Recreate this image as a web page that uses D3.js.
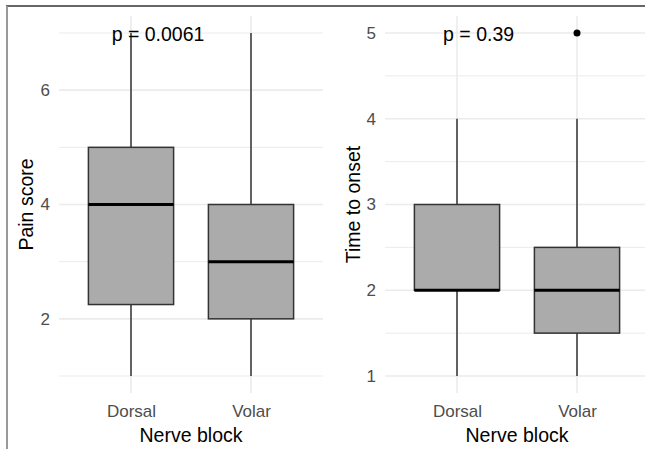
<!DOCTYPE html>
<html>
<head>
<meta charset="utf-8">
<script src="https://cdn.jsdelivr.net/npm/d3@7"></script>
<style>
  body { margin: 0; background: #fff; }
  text { font-family: "Liberation Sans", Arial, sans-serif; }
</style>
</head>
<body>
<script>
//////////////// Data ////////////////////
var groups = ["Dorsal", "Volar"];

// pain score: min, q1, median, q3, max
var painStats = [
  {group: "Dorsal", min: 1, q1: 2.25, med: 4, q3: 5, max: 7},
  {group: "Volar",  min: 1, q1: 2,    med: 3, q3: 4, max: 7}
];
var painMajor = [2, 4, 6];
var painMinor = [1, 3, 5, 7];
var painOutliers = [];

// time to onset
var onsetStats = [
  {group: "Dorsal", min: 1, q1: 2,   med: 2, q3: 3,   max: 4},
  {group: "Volar",  min: 1, q1: 1.5, med: 2, q3: 2.5, max: 4}
];
var onsetMajor = [1, 2, 3, 4, 5];
var onsetMinor = [1.5, 2.5, 3.5, 4.5];
var onsetOutliers = [{group: "Volar", value: 5}];

var pLabels = ["p = 0.0061", "p = 0.39"];
var yTitles = ["Pain score", "Time to onset"];
var xTitle = "Nerve block";

//////////////// SVG ////////////////////
var W = 645, H = 449;
var svg = d3.select("body").append("svg")
  .attr("width", W).attr("height", H);

// frame like the source image
svg.append("line").attr("x1", 6).attr("x2", W).attr("y1", 6).attr("y2", 6)
  .attr("stroke", "#333").attr("stroke-width", 1.5);
svg.append("line").attr("x1", 7).attr("x2", 7).attr("y1", 6).attr("y2", H)
  .attr("stroke", "#999").attr("stroke-width", 2);

var panelTop = 16, panelBottom = 393;

function drawPanel(cfg) {
  var g = svg.append("g");
  var x = d3.scalePoint().domain(groups).range([cfg.x0, cfg.x0 + 264]).padding(0.6);
  var y = d3.scaleLinear().domain(cfg.domain).range([376, 33]);
  var step = x.step();
  var bw = step * 0.71;

  // gridlines
  g.selectAll("line.minor").data(cfg.minor).enter().append("line")
    .attr("x1", cfg.x0).attr("x2", cfg.x0 + 264)
    .attr("y1", function(d){ return y(d); }).attr("y2", function(d){ return y(d); })
    .attr("stroke", "#ebebeb").attr("stroke-width", 1);
  g.selectAll("line.major").data(cfg.major).enter().append("line")
    .attr("x1", cfg.x0).attr("x2", cfg.x0 + 264)
    .attr("y1", function(d){ return y(d); }).attr("y2", function(d){ return y(d); })
    .attr("stroke", "#ebebeb").attr("stroke-width", 1.6);
  g.selectAll("line.vgrid").data(groups).enter().append("line")
    .attr("x1", function(d){ return x(d); }).attr("x2", function(d){ return x(d); })
    .attr("y1", panelTop).attr("y2", panelBottom)
    .attr("stroke", "#ebebeb").attr("stroke-width", 1.6);

  // axes (labels only)
  var ya = g.append("g").attr("transform", "translate(" + cfg.x0 + ",0)")
    .call(d3.axisLeft(y).tickValues(cfg.major).tickSize(0).tickPadding(9).tickFormat(d3.format("d")));
  ya.select(".domain").remove();
  ya.selectAll("text").attr("font-size", 17).attr("fill", "#4d4d4d")
    .attr("font-family", "Liberation Sans, Arial, sans-serif");

  var xa = g.append("g").attr("transform", "translate(0," + panelBottom + ")")
    .call(d3.axisBottom(x).tickSize(0).tickPadding(12));
  xa.select(".domain").remove();
  xa.selectAll("text").attr("font-size", 17).attr("fill", "#4d4d4d")
    .attr("font-family", "Liberation Sans, Arial, sans-serif");

  // whiskers
  g.selectAll("line.whisk").data(cfg.stats).enter().append("line")
    .attr("x1", function(d){ return x(d.group); }).attr("x2", function(d){ return x(d.group); })
    .attr("y1", function(d){ return y(d.min); }).attr("y2", function(d){ return y(d.max); })
    .attr("stroke", "#333").attr("stroke-width", 1.5);

  // boxes
  g.selectAll("rect.box").data(cfg.stats).enter().append("rect")
    .attr("x", function(d){ return x(d.group) - bw / 2; })
    .attr("width", bw)
    .attr("y", function(d){ return y(d.q3); })
    .attr("height", function(d){ return y(d.q1) - y(d.q3); })
    .attr("fill", "#ababab").attr("stroke", "#333").attr("stroke-width", 1.5);

  // medians
  g.selectAll("line.med").data(cfg.stats).enter().append("line")
    .attr("x1", function(d){ return x(d.group) - bw / 2; })
    .attr("x2", function(d){ return x(d.group) + bw / 2; })
    .attr("y1", function(d){ return y(d.med); }).attr("y2", function(d){ return y(d.med); })
    .attr("stroke", "#000").attr("stroke-width", 3);

  // outliers
  g.selectAll("circle").data(cfg.outliers).enter().append("circle")
    .attr("cx", function(d){ return x(d.group); })
    .attr("cy", function(d){ return y(d.value); })
    .attr("r", 3.5).attr("fill", "#000");

  // p value
  g.append("text")
    .attr("x", x(groups[0]) + step * cfg.pOffset)
    .attr("y", y(cfg.domain[1]) + 8)
    .attr("text-anchor", "middle").attr("font-size", 19.5).attr("fill", "#000")
    .text(cfg.pLabel);

  // titles
  g.append("text")
    .attr("transform", "translate(" + cfg.titleX + "," + (panelTop + panelBottom) / 2 + ") rotate(-90)")
    .attr("text-anchor", "middle").attr("font-size", 19.5).attr("fill", "#000")
    .text(cfg.yTitle);
  g.append("text")
    .attr("x", (x(groups[0]) + x(groups[1])) / 2).attr("y", 442)
    .attr("text-anchor", "middle").attr("font-size", 19.5).attr("fill", "#000")
    .text(xTitle);
}

drawPanel({x0: 59, domain: [1, 7], major: painMajor, minor: painMinor,
  stats: painStats, outliers: painOutliers, pLabel: pLabels[0], pOffset: 0.225,
  yTitle: yTitles[0], titleX: 33});
drawPanel({x0: 385, domain: [1, 5], major: onsetMajor, minor: onsetMinor,
  stats: onsetStats, outliers: onsetOutliers, pLabel: pLabels[1], pOffset: 0.18,
  yTitle: yTitles[1], titleX: 360});
</script>
</body>
</html>
